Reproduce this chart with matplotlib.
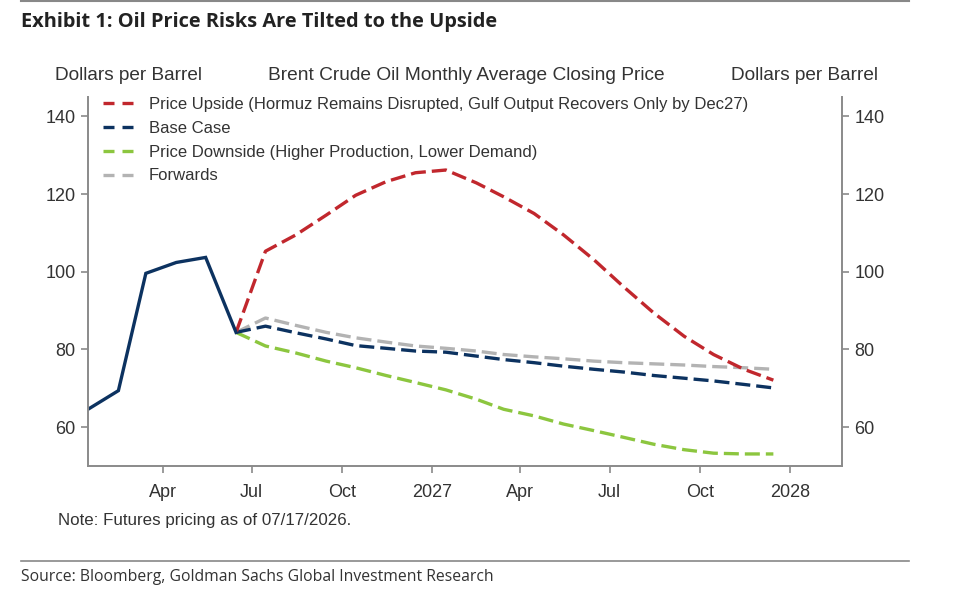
import datetime as dt

import matplotlib
matplotlib.use("Agg")
import matplotlib.pyplot as plt
from matplotlib.lines import Line2D

# actual monthly averages, Jan-Jun 2026
actual_months = [(2026, m) for m in range(1, 7)]
actual = [64.6, 69.4, 99.6, 102.4, 103.7, 84.4]

# scenarios, Jun 2026 - Dec 2027
fc_months = [(2026, m) for m in range(6, 13)] + [(2027, m) for m in range(1, 13)]
upside = [84.4, 105.3, 109.5, 114.6, 119.7, 123.2, 125.5, 126.2, 122.9, 119.3,
          115.0, 109.5, 103.1, 96.2, 89.4, 83.4, 78.7, 74.9, 72.1]
base = [84.4, 86.0, 84.3, 82.7, 81.0, 80.3, 79.6, 79.3, 78.3, 77.4,
        76.6, 75.7, 74.9, 74.2, 73.3, 72.6, 71.9, 71.0, 70.1]
downside = [84.4, 80.9, 79.1, 77.0, 75.3, 73.3, 71.5, 69.6, 67.2, 64.6,
            62.9, 60.8, 59.1, 57.4, 55.6, 54.2, 53.3, 53.1, 53.1]
forwards = [84.4, 88.1, 86.2, 84.4, 83.0, 81.9, 80.9, 80.3, 79.6, 78.7,
            78.1, 77.6, 77.0, 76.6, 76.3, 76.0, 75.6, 75.3, 74.9]

labels = ["Price Upside (Hormuz Remains Disrupted, Gulf Output Recovers Only by Dec27)",
          "Base Case",
          "Price Downside (Higher Production, Lower Demand)",
          "Forwards"]

RED = "#c1272d"
NAVY = "#0c3260"
GREEN = "#8cc63f"
GREY = "#b3b3b3"
SPINE = "#8a8a8a"
TXT = "#333333"

chart_font = ["Liberation Sans", "DejaVu Sans"]
page_font = ["Open Sans", "DejaVu Sans"]

def to_dates(months):
    return [dt.datetime(y, m, 15) for y, m in months]

xa = to_dates(actual_months)
xf = to_dates(fc_months)

fig = plt.figure(figsize=(9.6, 5.93), dpi=100)
ax = fig.add_axes([88 / 960, 1 - 466 / 593, (842 - 88) / 960, (466 - 97) / 593])

dash = (4.5, 1.8)
lw = 2.4
ax.plot(xf, downside, color=GREEN, lw=lw, dashes=dash)
ax.plot(xf, forwards, color=GREY, lw=lw, dashes=dash)
ax.plot(xf, base, color=NAVY, lw=lw, dashes=dash)
ax.plot(xf, upside, color=RED, lw=lw, dashes=dash)
ax.plot(xa, actual, color=NAVY, lw=lw, solid_joinstyle="miter")

ax.set_xlim(dt.datetime(2026, 1, 15), dt.datetime(2028, 2, 23))
ax.set_ylim(50, 145)
ax.set_yticks([60, 80, 100, 120, 140])

ticks = [dt.datetime(2026, 4, 1), dt.datetime(2026, 7, 1), dt.datetime(2026, 10, 1),
         dt.datetime(2027, 1, 1), dt.datetime(2027, 4, 1), dt.datetime(2027, 7, 1),
         dt.datetime(2027, 10, 1), dt.datetime(2028, 1, 1)]
tick_labels = ["Apr", "Jul", "Oct", "2027", "Apr", "Jul", "Oct", "2028"]
ax.set_xticks(ticks)
ax.set_xticklabels(tick_labels)

ax.spines["top"].set_visible(False)
for s in ["left", "right", "bottom"]:
    ax.spines[s].set_color(SPINE)
    ax.spines[s].set_linewidth(1.4)

ax.tick_params(axis="both", direction="out", length=5, width=1.2, color=SPINE,
               labelsize=13, labelcolor=TXT)
ax.tick_params(axis="x", pad=8)
ax.tick_params(axis="y", pad=4, right=True, labelright=True)
for t in ax.get_xticklabels() + ax.get_yticklabels():
    t.set_family(chart_font)

handles = [Line2D([], [], color=c, lw=lw, dashes=(3.3, 2.4))
           for c in [RED, NAVY, GREEN, GREY]]
leg = ax.legend(handles, labels, loc="upper left", bbox_to_anchor=(0.009, 1.023),
                frameon=False, handlelength=2.0, handletextpad=0.75,
                labelspacing=0.53, borderpad=0,
                prop={"family": chart_font, "size": 12})
for t in leg.get_texts():
    t.set_color(TXT)

# headers above the plot
fig.text(55 / 960, 1 - 75 / 593, "Dollars per Barrel", ha="left", va="center",
         fontsize=13.7, color=TXT, family=chart_font)
fig.text(466 / 960, 1 - 75 / 593, "Brent Crude Oil Monthly Average Closing Price",
         ha="center", va="center", fontsize=13.8, color=TXT, family=chart_font)
fig.text(878 / 960, 1 - 75 / 593, "Dollars per Barrel", ha="right", va="center",
         fontsize=13.7, color=TXT, family=chart_font)

fig.text(58 / 960, 1 - 521 / 593, "Note: Futures pricing as of 07/17/2026.",
         ha="left", va="center", fontsize=12.2, color=TXT, family=chart_font)

# page furniture
fig.add_artist(Line2D([21 / 960, 909 / 960], [1 - 1 / 593, 1 - 1 / 593],
                      color="#888888", lw=1.5))
fig.add_artist(Line2D([21 / 960, 909 / 960], [1 - 561 / 593, 1 - 561 / 593],
                      color="#888888", lw=1.2))
fig.text(21 / 960, 1 - 22 / 593, "Exhibit 1: Oil Price Risks Are Tilted to the Upside",
         ha="left", va="center", fontsize=14.4, fontweight="bold", color="#222222",
         family=page_font)
fig.text(21 / 960, 1 - 577 / 593,
         "Source: Bloomberg, Goldman Sachs Global Investment Research",
         ha="left", va="center", fontsize=11.3, color="#333333", family=page_font)

fig.savefig("out.png", dpi=100)
